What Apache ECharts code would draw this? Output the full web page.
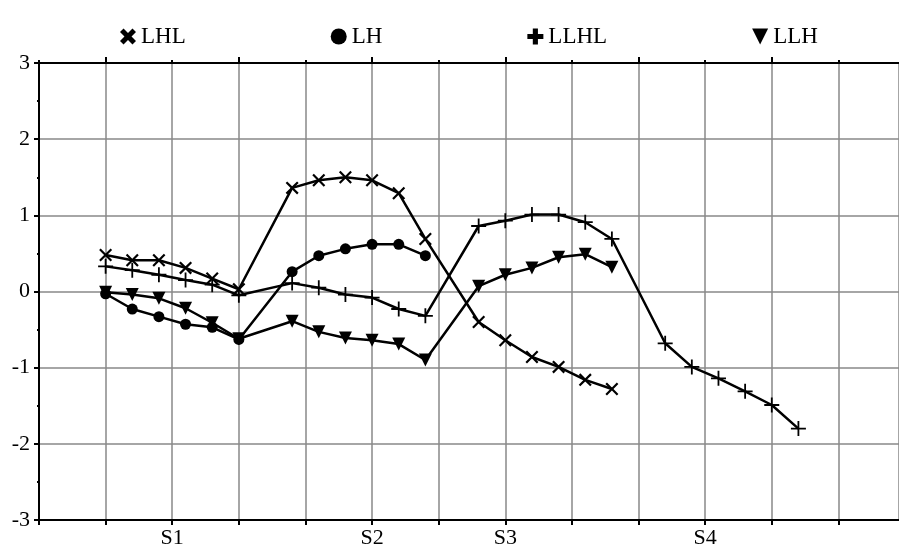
<!DOCTYPE html>
<html>
<head>
<meta charset="utf-8">
<script src="https://cdn.jsdelivr.net/npm/echarts@6/dist/echarts.min.js"></script>
<style>html,body{margin:0;padding:0;background:#fff;}#c{width:899px;height:552px;}</style>
</head>
<body>
<div id="c"></div>
<script>
// x positions (grid units) of each group of points
const xS1 = [1.0, 1.4, 1.8, 2.2, 2.6, 3.0];
const xS2 = [3.8, 4.2, 4.6, 5.0, 5.4, 5.8];
const xS3 = [6.6, 7.0, 7.4, 7.8, 8.2, 8.6];
const xS4 = [9.4, 9.8, 10.2, 10.6, 11.0, 11.4];

// category tick labels (position -> label)
const catPositions = [2, 5, 7, 10];
const catLabels = ['S1', 'S2', 'S3', 'S4'];

const seriesNames = ['LHL', 'LH', 'LLHL', 'LLH'];

// values
const LHL = [0.48, 0.41, 0.41, 0.31, 0.17, 0.03,
             1.36, 1.46, 1.50, 1.46, 1.29, 0.69,
             -0.40, -0.64, -0.86, -0.99, -1.16, -1.28];
const LH = [-0.03, -0.23, -0.33, -0.43, -0.47, -0.63,
            0.26, 0.47, 0.56, 0.62, 0.62, 0.47];
const LLHL = [0.33, 0.28, 0.22, 0.15, 0.09, -0.05,
              0.11, 0.05, -0.04, -0.08, -0.23, -0.32,
              0.86, 0.93, 1.01, 1.01, 0.91, 0.69,
              -0.68, -0.99, -1.14, -1.31, -1.49, -1.80];
const LLH = [-0.01, -0.04, -0.09, -0.22, -0.41, -0.62,
             -0.39, -0.53, -0.61, -0.64, -0.69, -0.90,
             0.07, 0.22, 0.31, 0.45, 0.49, 0.32];

// top-axis tick positions (long / short)
const topLongTicks = [1, 3, 5, 7, 9, 11];
const topShortTicks = [0, 2, 4, 6, 8, 10, 12];

const allX = xS1.concat(xS2, xS3, xS4);
function pairs(vals) { return vals.map((v, i) => [allX[i], v]); }

const XThin = 'path://M0,1.2 L1.2,0 L5,3.8 L8.8,0 L10,1.2 L6.2,5 L10,8.8 L8.8,10 L5,6.2 L1.2,10 L0,8.8 L3.8,5 Z';
const XBold = 'path://M0,2.2 L2.2,0 L5,2.8 L7.8,0 L10,2.2 L7.2,5 L10,7.8 L7.8,10 L5,7.2 L2.2,10 L0,7.8 L2.8,5 Z';
const PThin = 'path://M4.4,0 H5.6 V4.4 H10 V5.6 H5.6 V10 H4.4 V5.6 H0 V4.4 H4.4 Z';
const PBold = 'path://M3.4,0 H6.6 V3.4 H10 V6.6 H6.6 V10 H3.4 V6.6 H0 V3.4 H3.4 Z';
const Tri = 'path://M0,0 L10,0 L5,10 Z';

const FONT = 'Liberation Serif';

function line(name, vals, symbol, size) {
  return {
    name: name, type: 'line', data: pairs(vals),
    symbol: symbol, symbolSize: size, showSymbol: true,
    lineStyle: { color: '#000', width: 2.5 },
    itemStyle: { color: '#000' },
    animation: false, z: 5
  };
}

const XMAX = 12.91;
const chart = echarts.init(document.getElementById('c'), null, { renderer: 'canvas' });
chart.setOption({
  backgroundColor: '#fff',
  animation: false,
  legend: {
    left: 115, top: 20, itemGap: 145, itemWidth: 16, itemHeight: 16,
    textStyle: { fontFamily: FONT, fontSize: 23, color: '#000' },
    data: [
      { name: 'LHL', icon: XBold },
      { name: 'LH', icon: 'circle' },
      { name: 'LLHL', icon: PBold },
      { name: 'LLH', icon: Tri }
    ],
    itemStyle: { color: '#000' }
  },
  grid: { left: 39, right: 0, top: 63, bottom: 32, containLabel: false },
  xAxis: [
    {
      type: 'value', min: 0, max: XMAX, interval: 1, position: 'bottom',
      axisLine: { show: true, onZero: false, lineStyle: { color: '#000', width: 2 } },
      axisTick: { show: true, length: 5, lineStyle: { color: '#000', width: 2 } },
      axisLabel: {
        margin: 7, fontFamily: FONT, fontSize: 22, color: '#000', showMaxLabel: false,
        formatter: function (v) { const i = catPositions.indexOf(Math.round(v)); return (i >= 0 && Math.abs(v - catPositions[i]) < 1e-6) ? catLabels[i] : ''; }
      },
      splitLine: { show: true, lineStyle: { color: '#888', width: 1.5 } }
    },
    {
      type: 'value', min: 0, max: XMAX, interval: 1, position: 'top', offset: 0,
      axisLine: { show: true, onZero: false, lineStyle: { color: '#000', width: 2 } },
      axisTick: { show: true, length: 6, customValues: topLongTicks, lineStyle: { color: '#000', width: 2 } },
      axisLabel: { show: false }, splitLine: { show: false }
    },
    {
      type: 'value', min: 0, max: XMAX, interval: 1, position: 'top', offset: 0,
      axisLine: { show: false, onZero: false },
      axisTick: { show: true, length: 3, customValues: topShortTicks, lineStyle: { color: '#000', width: 2 } },
      axisLabel: { show: false }, splitLine: { show: false }
    }
  ],
  yAxis: {
    type: 'value', min: -3, max: 3, interval: 1,
    axisLine: { show: true, onZero: false, lineStyle: { color: '#000', width: 2 } },
    axisTick: { show: true, length: 5, lineStyle: { color: '#000', width: 2 } },
    minorTick: { show: true, splitNumber: 2, length: 2, lineStyle: { color: '#000', width: 2 } },
    axisLabel: { margin: 9, fontFamily: FONT, fontSize: 22, color: '#000' },
    splitLine: { show: true, lineStyle: { color: '#888', width: 1.5 } }
  },
  series: [
    line('LHL', LHL, XThin, 13),
    line('LH', LH, 'circle', 11),
    line('LLHL', LLHL, PThin, 15),
    line('LLH', LLH, Tri, 13)
  ]
});
</script>
</body>
</html>
